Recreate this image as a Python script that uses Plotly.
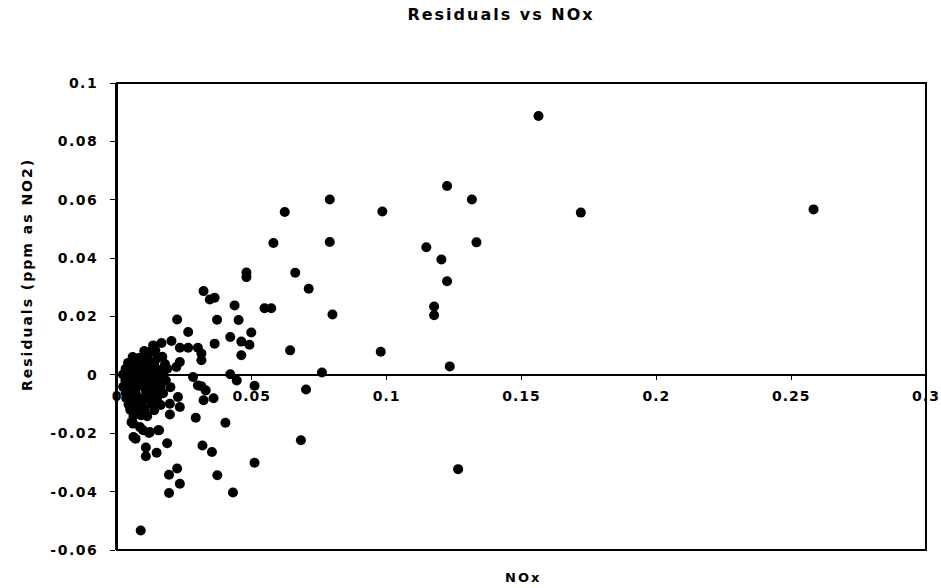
import plotly.graph_objects as go

# NOx concentration and model residuals (ppm as NO2)
nox = [
    0.1563, 0.1224, 0.1316, 0.0984, 0.1720, 0.2583, 0.1147, 0.1333, 0.1203, 0.1224,
    0.1176, 0.1176, 0.0978, 0.1234, 0.1265, 0.0789, 0.0622, 0.0580, 0.0789, 0.0480,
    0.0480, 0.0661, 0.0711, 0.0321, 0.0344, 0.0362, 0.0436, 0.0547, 0.0572, 0.0799,
    0.0371, 0.0451, 0.0498, 0.0420, 0.0461, 0.0491, 0.0362, 0.0642, 0.0461, 0.0760,
    0.0420, 0.0444, 0.0510, 0.0701, 0.0329, 0.0313, 0.0321, 0.0358, 0.0402, 0.0682,
    0.0317, 0.0352, 0.0510, 0.0372, 0.0430, 0.0088, 0.0193, 0.0193, 0.0223, 0.0233,
    0.0069, 0.0107, 0.0107, 0.0147, 0.0186, 0.0156, 0.0223, 0.0264, 0.0134, 0.0165,
    0.0202, 0.0233, 0.0264, 0.0300, 0.0313, 0.0313, 0.0220, 0.0233, 0.0282, 0.0300,
    0.0226, 0.0196, 0.0233, 0.0292, 0.0196, 0.0060, 0.0097, 0.0122, 0.0153, 0.0054,
    0.0085, 0.0119, 0.0061,
    # low-concentration cluster
    0.0101, 0.0123, 0.0142,
    0.0058, 0.0081, 0.0112, 0.0149, 0.0168,
    0.0041, 0.0062, 0.0093, 0.0121, 0.0139, 0.0178,
    0.0032, 0.0052, 0.0071, 0.0102, 0.0131, 0.0158, 0.0186,
    0.0022, 0.0043, 0.0061, 0.0083, 0.0112, 0.0141, 0.0172,
    0.0031, 0.0049, 0.0072, 0.0091, 0.0118, 0.0152, 0.0181,
    0.0023, 0.0041, 0.0063, 0.0079, 0.0102, 0.0133, 0.0161, 0.0198,
    0.0032, 0.0051, 0.0069, 0.0108, 0.0142, 0.0171,
    0.0034, 0.0052, 0.0079, 0.0101, 0.0122, 0.0149,
    0.0043, 0.0061, 0.0092, 0.0128, 0.0162,
    0.0049, 0.0071, 0.0102, 0.0138,
    0.0061, 0.0089, 0.0112,
]
residuals = [
    0.0887, 0.0647, 0.0601, 0.0560, 0.0556, 0.0567, 0.0437, 0.0454, 0.0395, 0.0321,
    0.0234, 0.0204, 0.0079, 0.0029, -0.0323, 0.0601, 0.0558, 0.0452, 0.0455, 0.0351,
    0.0335, 0.0350, 0.0295, 0.0287, 0.0258, 0.0264, 0.0238, 0.0228, 0.0228, 0.0207,
    0.0189, 0.0188, 0.0145, 0.0130, 0.0114, 0.0103, 0.0107, 0.0084, 0.0067, 0.0008,
    0.0002, -0.0019, -0.0037, -0.0050, -0.0053, -0.0039, -0.0087, -0.0080, -0.0164, -0.0224,
    -0.0242, -0.0264, -0.0301, -0.0344, -0.0403, -0.0533, -0.0405, -0.0342, -0.0321, -0.0373,
    -0.0219, -0.0249, -0.0279, -0.0267, -0.0234, -0.0190, 0.0190, 0.0147, 0.0101, 0.0109,
    0.0116, 0.0093, 0.0093, 0.0093, 0.0073, 0.0050, 0.0027, 0.0044, -0.0007, -0.0036,
    -0.0076, -0.0099, -0.0110, -0.0147, -0.0136, -0.0167, -0.0190, -0.0196, -0.0190, -0.0162,
    -0.0179, -0.0199, -0.0213,
    0.0082, 0.0079, 0.0084,
    0.0061, 0.0058, 0.0063, 0.0059, 0.0062,
    0.0041, 0.0038, 0.0043, 0.0039, 0.0042, 0.0037,
    0.0021, 0.0018, 0.0023, 0.0019, 0.0022, 0.0017, 0.0021,
    0.0001, -0.0002, 0.0002, -0.0001, 0.0003, -0.0002, 0.0001,
    -0.0019, -0.0022, -0.0018, -0.0021, -0.0017, -0.0022, -0.0019,
    -0.0041, -0.0038, -0.0042, -0.0039, -0.0043, -0.0038, -0.0041, -0.0042,
    -0.0061, -0.0058, -0.0062, -0.0059, -0.0061, -0.0063,
    -0.0079, -0.0082, -0.0078, -0.0081, -0.0083, -0.0079,
    -0.0101, -0.0098, -0.0102, -0.0099, -0.0103,
    -0.0119, -0.0122, -0.0118, -0.0121,
    -0.0141, -0.0138, -0.0142,
]

x_ticks = [0, 0.05, 0.1, 0.15, 0.2, 0.25, 0.3]
x_tick_labels = ["0", "0.05", "0.1", "0.15", "0.2", "0.25", "0.3"]
y_ticks = [-0.06, -0.04, -0.02, 0, 0.02, 0.04, 0.06, 0.08, 0.1]
y_tick_labels = ["-0.06", "-0.04", "-0.02", "0", "0.02", "0.04", "0.06", "0.08", "0.1"]

FONT = "DejaVu Sans, Verdana, sans-serif"
X_RANGE = [0, 0.3]
Y_RANGE = [-0.06, 0.1]
# fraction of plot height where y = 0 sits (x axis crosses there)
zero_pos = (0 - Y_RANGE[0]) / (Y_RANGE[1] - Y_RANGE[0])

PLOT_LEFT, PLOT_RIGHT = 117, 926
PLOT_TOP, PLOT_BOTTOM = 83, 550
plot_w = PLOT_RIGHT - PLOT_LEFT
plot_h = PLOT_BOTTOM - PLOT_TOP


def bold(labels):
    return ["<b>%s</b>" % t for t in labels]


fig = go.Figure(
    go.Scatter(
        x=nox,
        y=residuals,
        mode="markers",
        marker=dict(symbol="circle", size=10, color="black", line=dict(width=0)),
        showlegend=False,
    )
)

fig.update_layout(
    width=941,
    height=588,
    margin=dict(l=PLOT_LEFT, r=941 - PLOT_RIGHT, t=PLOT_TOP, b=588 - PLOT_BOTTOM),
    paper_bgcolor="white",
    plot_bgcolor="white",
    font=dict(family=FONT, color="black"),
    title=dict(
        text="<b>Residuals vs NOx</b>",
        font=dict(family=FONT, size=16, color="black"),
        x=501 / 941,
        xref="container",
        xanchor="center",
        y=1 - 14 / 588,
        yref="container",
        yanchor="middle",
    ),
    xaxis=dict(
        range=X_RANGE,
        tickvals=x_ticks,
        ticktext=bold(x_tick_labels),
        showgrid=False,
        zeroline=False,
        showline=True,
        linecolor="black",
        linewidth=1.5,
        ticks="outside",
        ticklen=4,
        tickcolor="black",
        ticklabelstandoff=5,
        ticklabeloverflow="allow",
        automargin=False,
        tickfont=dict(family=FONT, size=14, color="black"),
        anchor="free",
        position=zero_pos,
    ),
    yaxis=dict(
        range=Y_RANGE,
        tickvals=y_ticks,
        ticktext=bold(y_tick_labels),
        showgrid=False,
        zeroline=False,
        showline=True,
        linecolor="black",
        linewidth=2,
        ticks="outside",
        ticklen=5,
        tickcolor="black",
        ticklabelstandoff=9,
        ticklabeloverflow="allow",
        automargin=False,
        tickfont=dict(family=FONT, size=14, color="black"),
    ),
    shapes=[
        dict(
            type="rect",
            xref="paper",
            yref="paper",
            x0=0,
            x1=1,
            y0=0,
            y1=1,
            line=dict(color="black", width=2),
            layer="above",
        )
    ],
    annotations=[
        dict(
            text="<b>NOx</b>",
            xref="paper",
            yref="paper",
            x=(523 - PLOT_LEFT) / plot_w,
            y=-27 / plot_h,
            xanchor="center",
            yanchor="middle",
            showarrow=False,
            font=dict(family=FONT, size=13, color="black"),
        ),
        dict(
            text="<b>Residuals (ppm as NO2)</b>",
            xref="paper",
            yref="paper",
            x=(27 - PLOT_LEFT) / plot_w,
            y=(PLOT_BOTTOM - 275) / plot_h,
            xanchor="center",
            yanchor="middle",
            textangle=-90,
            showarrow=False,
            font=dict(family=FONT, size=14, color="black"),
        ),
    ],
)

# widen the letter spacing of the chart text
spacing_css = (
    "var s=document.createElement('style');"
    "s.textContent='"
    ".js-plotly-plot .xtick text{letter-spacing:1px;}"
    ".js-plotly-plot .ytick text{letter-spacing:1.5px;}"
    ".js-plotly-plot .annotation-text{letter-spacing:2px;}"
    ".js-plotly-plot .gtitle{letter-spacing:2px;}';"
    "document.head.appendChild(s);"
)

fig.write_html("out.html", post_script=spacing_css)
